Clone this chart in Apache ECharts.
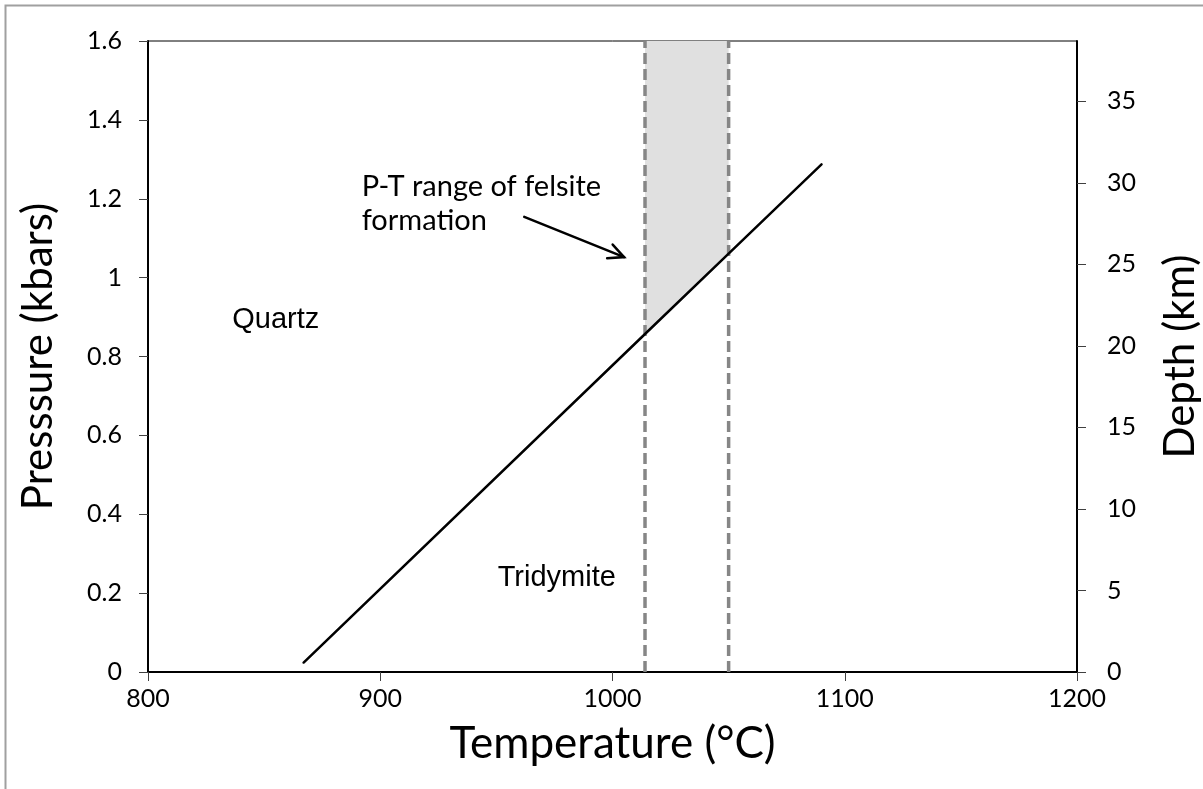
<!DOCTYPE html>
<html>
<head>
<meta charset="utf-8">
<script src="https://cdn.jsdelivr.net/npm/echarts@6/dist/echarts.min.js"></script>
<style>
  html, body { margin: 0; padding: 0; background: #ffffff; }
  #chart { width: 1203px; height: 789px; }
</style>
</head>
<body>
<div id="chart"></div>
<script>
// Axis ticks
const temperatureTicks = [800, 900, 1000, 1100, 1200];
const pressureTicks = [0, 0.2, 0.4, 0.6, 0.8, 1.0, 1.2, 1.4, 1.6];
const depthTicks = [0, 5, 10, 15, 20, 25, 30, 35];
const depthAtTop = 38.7;           // depth (km) equivalent to 1.6 kbar

// Quartz / tridymite phase boundary (T in °C, P in kbar)
const boundaryT = [867, 1014, 1050, 1090];
const boundaryP = [0.024, 0.857, 1.061, 1.287];

// Temperature range of felsite formation
const felsiteT = [1014, 1050];

// Field labels
const phaseNames = ['Quartz', 'Tridymite'];
const phaseT = [855, 976];
const phaseP = [0.892, 0.238];

// Note and its arrow
const noteLines = ['P-T range of felsite', 'formation'];
const noteAt = [892, 1.274];
const arrowFrom = [962, 1.154];
const arrowTo = [1005, 1.052];

const tickFont = 'Lato, "Open Sans", sans-serif';
const pMin = pressureTicks[0];
const pMax = pressureTicks[pressureTicks.length - 1];

const chart = echarts.init(document.getElementById('chart'), null, { renderer: 'canvas' });

const boundaryData = boundaryT.map((t, i) => [t, boundaryP[i]]);

const option = {
  animation: false,
  backgroundColor: '#ffffff',
  grid: {
    left: 148, right: 126, top: 41, bottom: 117,
    outerBoundsMode: 'none',
    containLabel: false,
    show: true, borderColor: '#000000', borderWidth: 1, backgroundColor: 'transparent'
  },
  xAxis: {
    type: 'value',
    min: temperatureTicks[0],
    max: temperatureTicks[temperatureTicks.length - 1],
    interval: 100,
    name: 'Temperature (°C)',
    nameLocation: 'middle',
    nameGap: 50,
    nameTextStyle: { fontFamily: tickFont, fontSize: 44, color: '#000' },
    axisLine: { show: true, onZero: false, lineStyle: { color: '#000', width: 2 } },
    axisTick: { show: true, inside: false, length: 9, lineStyle: { color: '#404040', width: 1 } },
    axisLabel: { margin: 14, fontFamily: tickFont, fontSize: 25, color: '#000', formatter: v => String(v) },
    splitLine: { show: false }
  },
  yAxis: [
    {
      type: 'value',
      position: 'left',
      min: pMin, max: pMax, interval: 0.2,
      name: 'Presssure (kbars)',
      nameLocation: 'middle',
      nameGap: 89,
      nameTextStyle: { fontFamily: tickFont, fontSize: 42, color: '#000' },
      axisLine: { show: true, onZero: false, lineStyle: { color: '#000', width: 2 } },
      axisTick: { show: true, inside: false, length: 9, lineStyle: { color: '#404040', width: 1 } },
      axisLabel: {
        margin: 26, fontFamily: tickFont, fontSize: 25, color: '#000',
        formatter: v => String(Math.round(v * 10) / 10)
      },
      splitLine: { show: false }
    },
    {
      type: 'value',
      position: 'right',
      min: 0, max: depthAtTop,
      name: 'Depth (km)',
      nameLocation: 'middle',
      nameRotate: 90,
      nameGap: 82,
      nameTextStyle: { fontFamily: tickFont, fontSize: 42, color: '#000' },
      axisLine: { show: true, onZero: false, lineStyle: { color: '#000', width: 2 } },
      axisTick: { show: true, inside: false, length: 9, customValues: depthTicks, lineStyle: { color: '#404040', width: 1 } },
      axisLabel: { margin: 30, fontFamily: tickFont, fontSize: 25, color: '#000', customValues: depthTicks },
      splitLine: { show: false }
    }
  ],
  series: [
    {
      // shaded P-T field of felsite formation, above the phase boundary
      type: 'custom',
      renderItem: function (params, api) {
        const pts = [
          api.coord([felsiteT[0], boundaryP[1]]),
          api.coord([felsiteT[1], boundaryP[2]]),
          api.coord([felsiteT[1], pMax]),
          api.coord([felsiteT[0], pMax])
        ];
        return {
          type: 'polygon',
          shape: { points: pts },
          style: { fill: '#e0e0e0', stroke: null }
        };
      },
      data: [[felsiteT[0], pMax]],
      silent: true,
      z: 1
    },
    ...felsiteT.map(t => ({
      type: 'line',
      data: [[t, pMin], [t, pMax]],
      symbol: 'none',
      lineStyle: { color: '#868686', width: 3.5, type: [11, 5] },
      silent: true,
      z: 2
    })),
    {
      type: 'line',
      data: boundaryData,
      symbol: 'none',
      lineStyle: { color: '#000000', width: 2.5, cap: 'round' },
      silent: true,
      z: 3
    }
  ]
};

chart.setOption(option);

// Annotations placed in data coordinates
function px(t, p) { return chart.convertToPixel({ xAxisIndex: 0, yAxisIndex: 0 }, [t, p]); }

const graphics = [];

// outer chart border
graphics.push({
  type: 'rect',
  shape: { x: 5.5, y: 5.5, width: 1230, height: 820 },
  style: { fill: null, stroke: '#a0a0a0', lineWidth: 2 },
  silent: true
});

phaseNames.forEach((name, i) => {
  const [x, y] = px(phaseT[i], phaseP[i]);
  graphics.push({
    type: 'text', x: x, y: y,
    style: {
      text: name, fill: '#000',
      font: '29px "Liberation Sans", Arial, sans-serif',
      align: 'center', verticalAlign: 'middle'
    },
    z: 10
  });
});

const [nx, ny] = px(noteAt[0], noteAt[1]);
graphics.push({
  type: 'text', x: nx, y: ny,
  style: {
    text: noteLines.join('\n'), fill: '#000',
    font: '29px ' + tickFont, lineHeight: 34,
    align: 'left', verticalAlign: 'top'
  },
  z: 10
});

const a0 = px(arrowFrom[0], arrowFrom[1]);
const a1 = px(arrowTo[0], arrowTo[1]);
const ang = Math.atan2(a1[1] - a0[1], a1[0] - a0[0]);
const headLen = 17, headAng = 0.45;
graphics.push({
  type: 'polyline',
  shape: { points: [a0, a1] },
  style: { stroke: '#000', lineWidth: 2.5, lineCap: 'round' },
  z: 10
});
graphics.push({
  type: 'polyline',
  shape: {
    points: [
      [a1[0] - headLen * Math.cos(ang - headAng), a1[1] - headLen * Math.sin(ang - headAng)],
      a1,
      [a1[0] - headLen * Math.cos(ang + headAng), a1[1] - headLen * Math.sin(ang + headAng)]
    ]
  },
  style: { stroke: '#000', lineWidth: 2.5, lineCap: 'round', lineJoin: 'miter', fill: null },
  z: 10
});

chart.setOption({ graphic: graphics });
</script>
</body>
</html>
